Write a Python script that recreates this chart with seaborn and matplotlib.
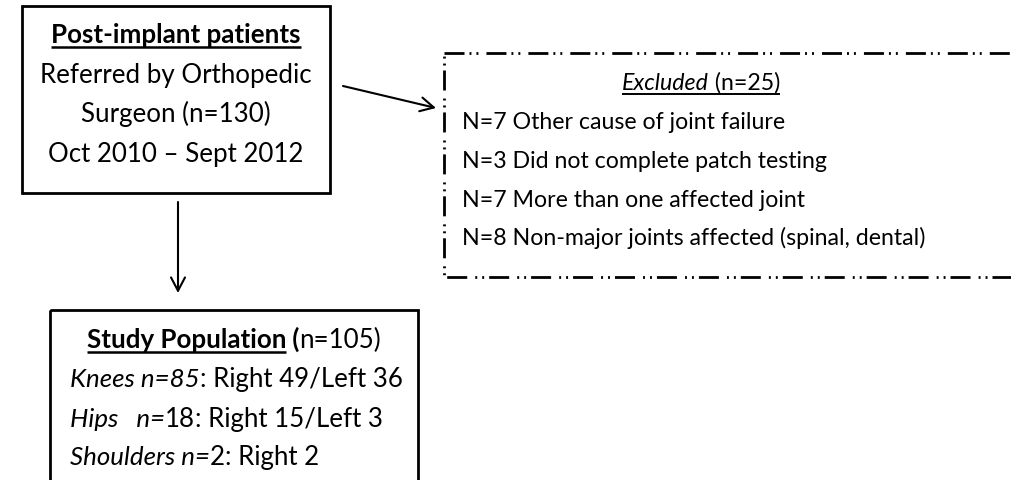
import matplotlib
matplotlib.use("Agg")
import matplotlib.pyplot as plt
import seaborn as sns
from matplotlib.patches import Rectangle

# ---------------- data ----------------
referred_n = 130
referral_period = "Oct 2010 \u2013 Sept 2012"
excluded_n = 25
excluded_counts = [7, 3, 7, 8]
excluded_reasons = [
    "Other cause of joint failure",
    "Did not complete patch testing",
    "More than one affected joint",
    "Non-major joints affected (spinal, dental)",
]
study_n = 105
joint_names = ["Knees", "Hips", "Shoulders"]
joint_n = [85, 18, 2]
joint_right = [49, 15, 2]
joint_left = [36, 3, None]

# ---------------- style ----------------
sns.set_theme(style="white")
plt.rcParams["font.family"] = ["Lato", "DejaVu Sans"]
plt.rcParams["lines.scale_dashes"] = False
FS_MAIN = 18.6
FS_EXCL = 16.7

W, H = 1012, 481
fig = plt.figure(figsize=(W / 100, H / 100), dpi=100)
ax = fig.add_axes([0, 0, 1, 1])
ax.set_xlim(0, W)
ax.set_ylim(H, 0)
ax.axis("off")
fig.canvas.draw()
renderer = fig.canvas.get_renderer()


def run_width(s, weight, style, fs):
    t1 = ax.text(0, 0, "|" + s + "|", fontsize=fs, fontweight=weight, fontstyle=style)
    t2 = ax.text(0, 0, "||", fontsize=fs, fontweight=weight, fontstyle=style)
    w = t1.get_window_extent(renderer).width - t2.get_window_extent(renderer).width
    t1.remove()
    t2.remove()
    return w


def draw_runs(x, y, runs, align="left", fs=FS_MAIN):
    """runs: list of (text, weight, style, underline)"""
    widths = [run_width(r[0], r[1], r[2], fs) for r in runs]
    total = sum(widths)
    cx = x - total / 2 if align == "center" else x
    for (s, weight, style, ul), w in zip(runs, widths):
        ax.text(cx, y, s, fontsize=fs, fontweight=weight, fontstyle=style,
                ha="left", va="baseline", color="black")
        if ul:
            ax.plot([cx, cx + w], [y + 5, y + 5], color="black",
                    lw=1.8 if weight == "bold" else 1.4, solid_capstyle="butt")
        cx += w


# ---------------- boxes ----------------
ax.add_patch(Rectangle((22, 7), 308, 187, fill=False, ec="black", lw=2))
ax.add_patch(Rectangle((50, 311), 368, 200, fill=False, ec="black", lw=2))
ax.add_patch(Rectangle((444, 54), 620, 224, fill=False, ec="black", lw=2,
                       linestyle=(0, (14.4, 3.6, 1.4, 3.6, 1.4, 5.8))))

# ---------------- arrows ----------------
arrow_kw = dict(arrowstyle="->,head_length=0.8,head_width=0.42", lw=1.5,
                color="black", mutation_scale=12, shrinkA=0, shrinkB=0)
ax.annotate("", xy=(178, 294), xytext=(178, 203), arrowprops=arrow_kw)
ax.annotate("", xy=(436, 109), xytext=(343, 87), arrowprops=arrow_kw)

# ---------------- box 1 text ----------------
draw_runs(176, 43, [("Post-implant patients", "bold", "normal", True)], "center")
draw_runs(176, 83, [("Referred by Orthopedic", "normal", "normal", False)], "center")
draw_runs(176, 122, [(f"Surgeon (n={referred_n})", "normal", "normal", False)], "center")
draw_runs(176, 162, [(referral_period, "normal", "normal", False)], "center")

# ---------------- excluded text ----------------
draw_runs(701, 90, [("Excluded", "normal", "italic", True),
                    (f" (n={excluded_n})", "normal", "normal", True)],
          "center", fs=FS_EXCL)
ex_base = [129, 168, 207, 245]
for yb, c, r in zip(ex_base, excluded_counts, excluded_reasons):
    draw_runs(462, yb, [(f"N={c} {r}", "normal", "normal", False)], fs=FS_EXCL)

# ---------------- study text ----------------
draw_runs(234, 348, [("Study Population", "bold", "normal", True),
                     (" (", "bold", "normal", False),
                     (f"n={study_n})", "normal", "normal", False)], "center")
st_base = [387, 427, 465]
for i, (yb, name, n, r, l) in enumerate(zip(st_base, joint_names, joint_n,
                                             joint_right, joint_left)):
    side = f": Right {r}" + (f"/Left {l}" if l is not None else "")
    if i == 0:
        runs = [(f"{name} n={n}", "normal", "italic", False),
                (side, "normal", "normal", False)]
    else:
        gap = "   " if name == "Hips" else " "
        runs = [(f"{name}{gap}n=", "normal", "italic", False),
                (f"{n}", "normal", "normal", False),
                (side, "normal", "normal", False)]
    draw_runs(70, yb, runs)

fig.savefig("out.png", dpi=100, facecolor="white")
